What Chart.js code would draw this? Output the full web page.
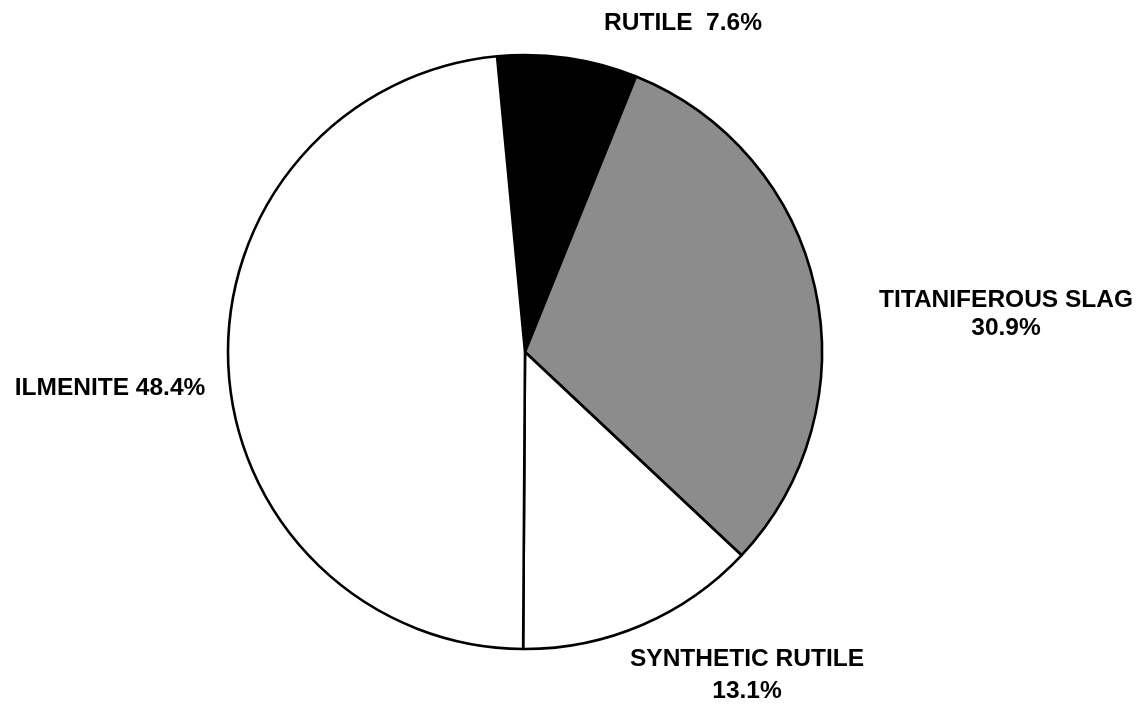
<!DOCTYPE html>
<html>
<head>
<meta charset="utf-8">
<script src="https://cdn.jsdelivr.net/npm/chart.js@4.4.0/dist/chart.umd.min.js"></script>
<style>
  html, body { margin: 0; padding: 0; background: #fff; }
  #wrap { width: 1144px; height: 704px; }
</style>
</head>
<body>
<div id="wrap"><canvas id="myChart" width="1144" height="704"></canvas></div>
<script>
var categories = ['RUTILE', 'TITANIFEROUS SLAG', 'SYNTHETIC RUTILE', 'ILMENITE'];
var shares = [7.6, 30.9, 13.1, 48.4];
var sliceColors = ['#000000', '#8c8c8c', '#ffffff', '#ffffff'];

// label lines per slice, drawn by the plugin below
var labelLines = [
    ['RUTILE  7.6%'],
    ['TITANIFEROUS SLAG', '30.9%'],
    ['SYNTHETIC RUTILE', '13.1%'],
    ['ILMENITE 48.4%']
];
// offset of first line from pie centre, and line gap
var labelOffsets = [
    { dx: 158, dy: -329, gap: 0 },
    { dx: 481, dy: -52, gap: 28 },
    { dx: 222, dy: 307, gap: 32 },
    { dx: -415, dy: 36, gap: 0 }
];

var sliceLabels = {
    id: 'sliceLabels',
    afterDraw: function (chart) {
        var arc = chart.getDatasetMeta(0).data[0];
        var ctx = chart.ctx;
        ctx.save();
        ctx.fillStyle = '#000';
        ctx.font = 'bold 24.5px "Liberation Sans", Arial, sans-serif';
        ctx.textAlign = 'center';
        ctx.textBaseline = 'middle';
        for (var i = 0; i < labelLines.length; i++) {
            var o = labelOffsets[i];
            for (var j = 0; j < labelLines[i].length; j++) {
                ctx.fillText(labelLines[i][j], arc.x + o.dx, arc.y + o.dy + j * o.gap);
            }
        }
        ctx.restore();
    }
};

var ctx = document.getElementById('myChart');
var myPie = new Chart(ctx, {
    type: 'pie',
    data: {
        labels: categories,
        datasets: [{
            data: shares,
            backgroundColor: sliceColors,
            borderColor: '#000',
            borderWidth: 2.6,
            borderAlign: 'center'
        }]
    },
    options: {
        responsive: false,
        animation: false,
        rotation: -5.4,
        radius: 297,
        layout: { padding: { left: 0, right: 94, top: 0, bottom: 0 } },
        plugins: {
            legend: { display: false },
            tooltip: { enabled: false }
        }
    },
    plugins: [sliceLabels]
});
</script>
</body>
</html>
